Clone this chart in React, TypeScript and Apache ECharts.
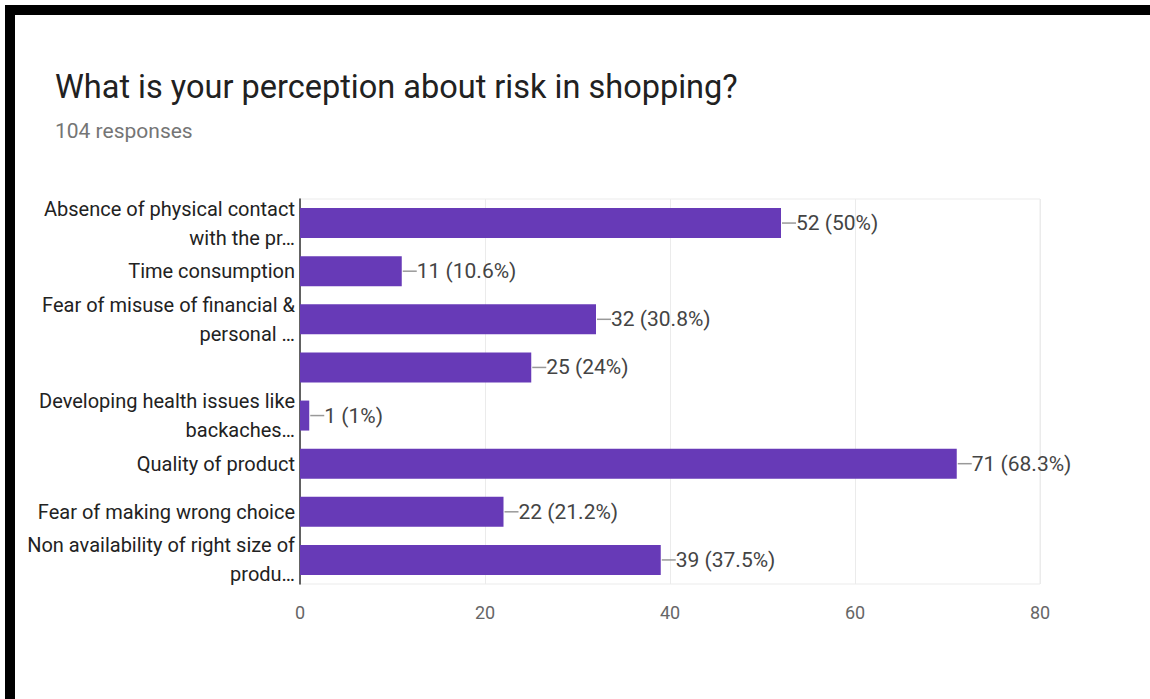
import React, { useEffect, useRef } from "react";
import * as echarts from "echarts";

const categories = [
  "Absence of physical contact\nwith the pr…",
  "Time consumption",
  "Fear of misuse of financial &\npersonal …",
  "",
  "Developing health issues like\nbackaches…",
  "Quality of product",
  "Fear of making wrong choice",
  "Non availability of right size of\nprodu…",
];
const counts = [52, 11, 32, 25, 1, 71, 22, 39];
const percents = ["50%", "10.6%", "30.8%", "24%", "1%", "68.3%", "21.2%", "37.5%"];
const xTicks = [0, 20, 40, 60, 80];

const FONT = "Roboto, 'Liberation Sans', Arial, sans-serif";

export default function App() {
  const ref = useRef<HTMLDivElement>(null);
  useEffect(() => {
    if (!ref.current) return;
    const chart = echarts.init(ref.current, null, { renderer: "svg" });
    chart.setOption({
      animation: false,
      backgroundColor: "#ffffff",
      textStyle: { fontFamily: FONT },
      title: [
        {
          text: "What is your perception about risk in shopping?",
          left: 50,
          top: 65,
          textStyle: { fontSize: 32.5, fontWeight: "normal", color: "#212121", fontFamily: FONT },
        },
        {
          text: "104 responses",
          left: 50,
          top: 115,
          textStyle: { fontSize: 21, fontWeight: "normal", color: "#757575", fontFamily: FONT },
        },
      ],
      graphic: [
        { type: "rect", shape: { x: 5, y: 5, width: 1145, height: 10 }, style: { fill: "#000" } },
        { type: "rect", shape: { x: 5, y: 5, width: 10, height: 694 }, style: { fill: "#000" } },
      ],
      grid: {
        left: 300,
        right: 110,
        top: 199,
        height: 385,
        show: true,
        borderColor: "#ebebeb",
        borderWidth: 1,
        containLabel: false,
      },
      xAxis: {
        type: "value",
        min: xTicks[0],
        max: xTicks[xTicks.length - 1],
        interval: 20,
        axisLine: { show: false },
        axisTick: { show: false },
        splitLine: { show: true, lineStyle: { color: "#ebebeb", width: 1 } },
        axisLabel: { color: "#666", fontSize: 18, margin: 19, fontFamily: FONT },
      },
      yAxis: {
        type: "category",
        inverse: true,
        data: categories,
        axisLine: { show: true, lineStyle: { color: "#333", width: 1.5 } },
        axisTick: { show: false },
        splitLine: { show: false },
        axisLabel: {
          color: "#222",
          fontSize: 20,
          lineHeight: 29,
          margin: 5,
          align: "right",
          fontFamily: FONT,
        },
      },
      series: [
        {
          type: "bar",
          data: counts,
          barWidth: 30,
          itemStyle: { color: "#673ab7" },
          label: {
            show: true,
            position: "right",
            distance: 15,
            color: "#444",
            fontSize: 21,
            fontFamily: FONT,
            formatter: (p: any) => `${counts[p.dataIndex]} (${percents[p.dataIndex]})`,
          },
          z: 3,
        },
        {
          type: "custom",
          data: counts.map((v, i) => [v, i]),
          renderItem: (params: any, api: any) => {
            const p = api.coord([api.value(0), api.value(1)]);
            return {
              type: "line",
              shape: { x1: p[0] + 1, y1: p[1], x2: p[0] + 15, y2: p[1] },
              style: { stroke: "#999", lineWidth: 1.5 },
            };
          },
          z: 4,
        },
      ],
    });
    return () => chart.dispose();
  }, []);
  return (
    <div
      ref={ref}
      style={{ position: "fixed", left: 0, top: 0, width: 1150, height: 699 }}
    />
  );
}
